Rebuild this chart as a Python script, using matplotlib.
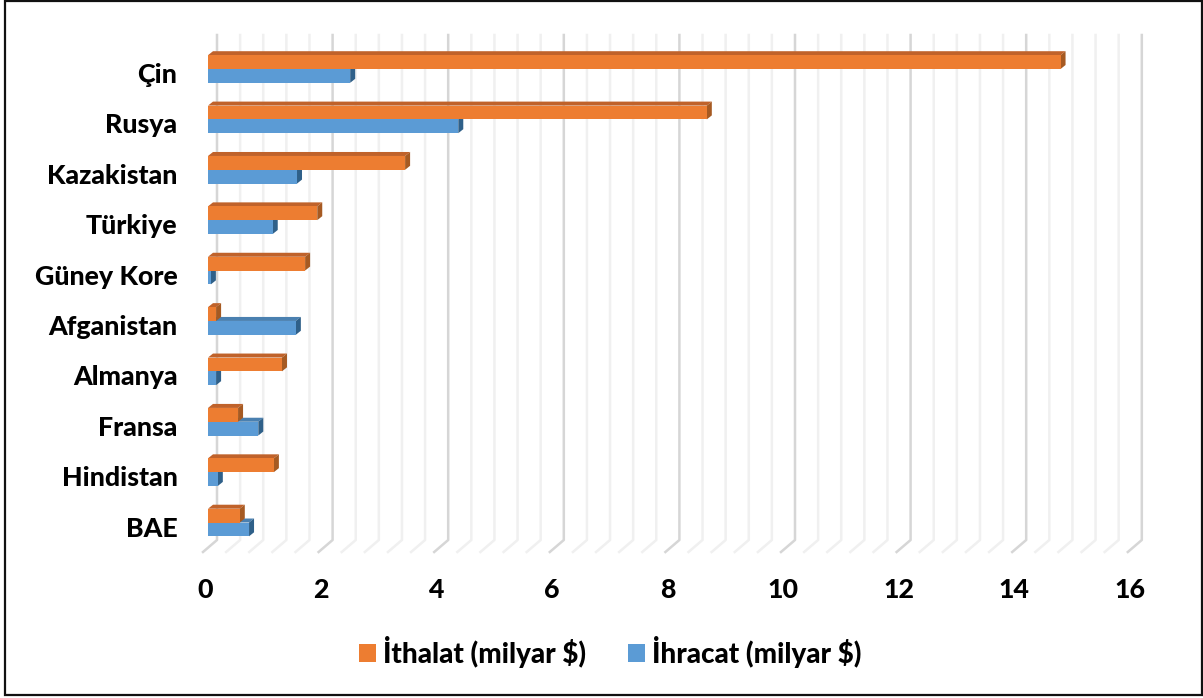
import matplotlib
matplotlib.use("Agg")
import matplotlib.pyplot as plt
from matplotlib.patches import Polygon, Rectangle
from matplotlib.transforms import ScaledTranslation

countries = ["Çin", "Rusya", "Kazakistan", "Türkiye", "Güney Kore",
             "Afganistan", "Almanya", "Fransa", "Hindistan", "BAE"]
ithalat = [14.75, 8.63, 3.41, 1.89, 1.68, 0.14, 1.28, 0.52, 1.14, 0.55]
ihracat = [2.46, 4.33, 1.54, 1.12, 0.05, 1.52, 0.14, 0.87, 0.17, 0.71]
x_ticks = [0, 2, 4, 6, 8, 10, 12, 14, 16]
orange, orange_side, orange_top = "#ED7D31", "#A65A22", "#C0622A"
blue, blue_side, blue_top = "#5B9BD5", "#2F6089", "#4A80B0"

W, H = 1203, 698
FS = 19.3
plt.rcParams["font.family"] = ["Lato", "DejaVu Sans"]
plt.rcParams["font.weight"] = "black"
fig = plt.figure(figsize=(W / 100, H / 100), dpi=100)

PX = 57.8
x0, x1 = 208, 208 + 16 * PX
y_top, y_bot = 35, 552
ax = fig.add_axes([x0 / W, 1 - y_bot / H, (x1 - x0) / W, (y_bot - y_top) / H])
ax.set_xlim(0, 16)
SP = 50.39
Y0 = 69
ax.set_ylim(9 + (y_bot - (Y0 + 9 * SP)) / SP, (y_top - Y0) / SP)
for s in ax.spines.values():
    s.set_visible(False)
ax.patch.set_alpha(0)

back = 9 / PX
front = -5 / PX
wall_bottom = 9 + (540 - (Y0 + 9 * SP)) / SP
floor = 9 + (552 - (Y0 + 9 * SP)) / SP
n = 40
for i in range(n + 1):
    v = i * 0.4
    major = i % 5 == 0
    col = "#D6D6D6" if major else "#F0F0F0"
    ax.plot([v + back, v + back, v + front], [ax.get_ylim()[1], wall_bottom, floor],
            color=col, lw=1.8, zorder=1, clip_on=False, solid_joinstyle="round")

bar_h = 13.8 / SP
dx, dy = 5 / PX, 4 / SP


def bars(vals, offs, c, cs, ct, label):
    ys = [i + offs for i in range(len(vals))]
    for y, v in zip(ys, vals):
        top = y - bar_h / 2
        bot = y + bar_h / 2
        ax.add_patch(Polygon([(0, top), (dx, top - dy), (v + dx, top - dy), (v, top)],
                             closed=True, fc=ct, ec="none", zorder=3))
        ax.add_patch(Polygon([(v, top), (v + dx, top - dy), (v + dx, bot - dy), (v, bot)],
                             closed=True, fc=cs, ec="none", zorder=3))
    ax.barh(ys, vals, height=bar_h, color=c, zorder=4, label=label)


bars(ihracat, bar_h / 2, blue, blue_side, blue_top, "İhracat (milyar $)")
bars(ithalat, -bar_h / 2, orange, orange_side, orange_top, "İthalat (milyar $)")

ax.set_yticks(range(len(countries)))
ax.set_yticklabels(countries, fontsize=FS, fontweight="black", color="black")
ax.set_xticks(x_ticks)
ax.set_xticklabels([str(t) for t in x_ticks], fontsize=FS, fontweight="black", color="black")
ax.tick_params(axis="both", length=0)
ax.tick_params(axis="y", pad=22)
ax.tick_params(axis="x", pad=19)
xoff = ScaledTranslation(-3 / 100, 0, fig.dpi_scale_trans)
yoff = ScaledTranslation(0, -4 / 100, fig.dpi_scale_trans)
for t in ax.get_xticklabels():
    t.set_transform(t.get_transform() + xoff)
for t in ax.get_yticklabels():
    t.set_transform(t.get_transform() + yoff)

h, l = ax.get_legend_handles_labels()
fig.legend(h[::-1], l[::-1], loc="center", bbox_to_anchor=(610 / W, 1 - 652 / H),
           ncol=2, frameon=False, fontsize=20, handlelength=0.61, handleheight=0.61,
           handletextpad=0.25, columnspacing=1.5, borderpad=0)

fig.add_artist(Rectangle((5 / W, 1 - 695 / H), 1196.5 / W, 694 / H, transform=fig.transFigure,
                         fill=False, ec="#111111", lw=1.6))
fig.savefig("out.png", dpi=100)
